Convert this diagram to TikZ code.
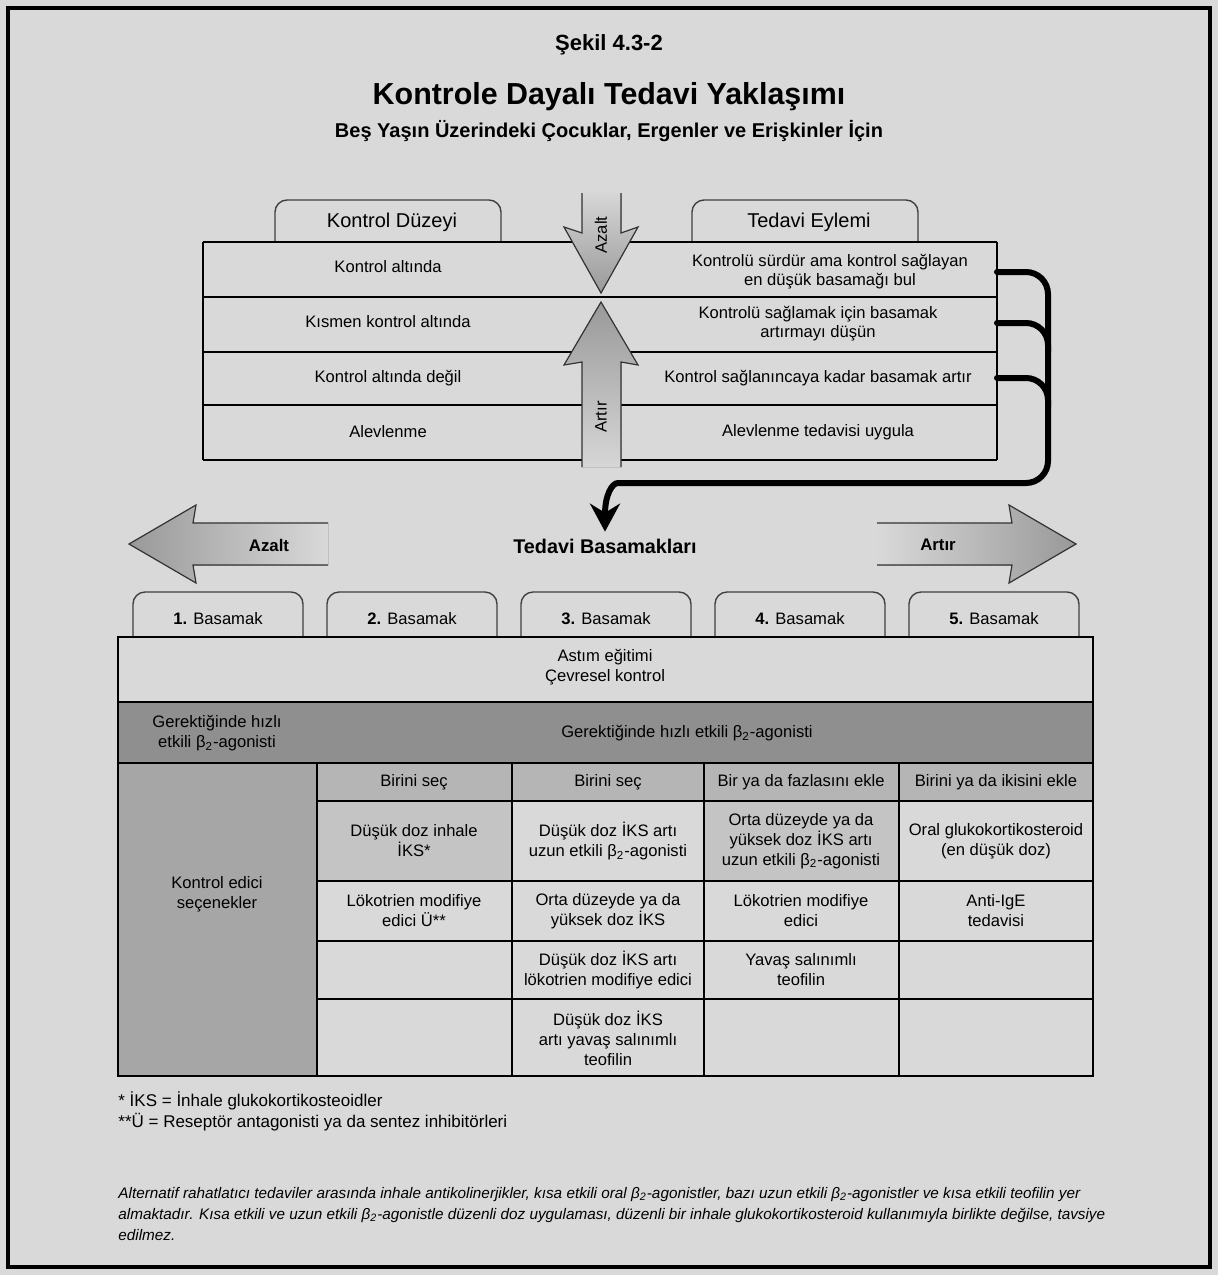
\documentclass[tikz,border=0pt]{standalone}
\usepackage{fontspec}
\setmainfont{Liberation Sans}
\usetikzlibrary{arrows.meta,calc,positioning}

\definecolor{pagebg}{gray}{0.85}
\definecolor{darkrow}{gray}{0.56}
\definecolor{colgray}{gray}{0.65}
\definecolor{headgray}{gray}{0.71}
\definecolor{cellgray}{gray}{0.77}
\definecolor{arrlight}{gray}{0.84}
\definecolor{arrdark}{gray}{0.60}
\newcommand{\btwo}{β\textsubscript{2}}

\begin{document}
\begin{tikzpicture}[x=0.5pt, y=-0.5pt,
  txt/.style={font=\fontsize{8.3}{10}\selectfont, align=center, inner sep=1pt},
  tabline/.style={draw=black!75, line width=0.7pt, rounded corners=6pt},
  grid/.style={line width=1pt},
  arrline/.style={draw=black!80, line width=0.6pt},
  conn/.style={line width=3pt, rounded corners=11pt, line cap=round},
  note/.style={font=\fontsize{8.5}{10}\selectfont, anchor=west, inner sep=0pt}]

  % Background and frame
  \fill[pagebg] (0,0) rectangle (1218,1275);
  \useasboundingbox (0,0) rectangle (1218,1275);
  \draw[line width=2pt] (8,8) rectangle (1210,1267);

  % Titles
  \node[font=\bfseries\fontsize{11}{13}\selectfont] (fig) at (609,45) {Şekil 4.3-2};
  \node[font=\bfseries\fontsize{15.2}{18}\selectfont] (title) at (609,97) {Kontrole Dayalı Tedavi Yaklaşımı};
  \node[font=\bfseries\fontsize{10}{12}\selectfont] (subtitle) at (609,131) {Beş Yaşın Üzerindeki Çocuklar, Ergenler ve Erişkinler İçin};

  % Upper table
  \draw[tabline] (275,242) -- (275,200) -- (501,200) -- (501,242);
  \draw[tabline] (692,242) -- (692,200) -- (918,200) -- (918,242);
  \node[font=\fontsize{10}{12}\selectfont] (level) at (392,222) {Kontrol Düzeyi};
  \node[font=\fontsize{10}{12}\selectfont] (action) at (809,222) {Tedavi Eylemi};
  \foreach \y in {242,297,352,405,460}
    \draw[grid] (203,\y) -- (997,\y);
  \draw[grid] (203,242) -- (203,460);
  \draw[grid] (997,242) -- (997,460);

  % Azalt / Artir arrows
  \fill[top color=arrlight, bottom color=arrdark] (582,193) -- (582,233) -- (564,227) -- (601,293) -- (638,227) -- (621,233) -- (621,193) -- cycle;
  \draw[arrline] (582,193) -- (582,233) -- (564,227) -- (601,293) -- (638,227) -- (621,233) -- (621,193);
  \fill[top color=arrdark, bottom color=arrlight] (582,467) -- (582,362) -- (564,365) -- (601,302) -- (638,365) -- (621,362) -- (621,467) -- cycle;
  \draw[arrline] (582,467) -- (582,362) -- (564,365) -- (601,302) -- (638,365) -- (621,362) -- (621,467);
  \node[txt, rotate=90] (dec) at (601,235) {Azalt};
  \node[txt, rotate=90] (inc) at (601,417) {Artır};

  \node[txt] (lev1) at (388,267) {Kontrol altında};
  \node[txt] (lev2) at (388,322) {Kısmen kontrol altında};
  \node[txt] (lev3) at (388,378) {Kontrol altında değil};
  \node[txt] (lev4) at (388,432) {Alevlenme};
  \node[txt, font=\fontsize{8.3}{9.5}\selectfont] (act1) at (830,272) {Kontrolü sürdür ama kontrol sağlayan\\en düşük basamağı bul};
  \node[txt, font=\fontsize{8.3}{9.5}\selectfont] (act2) at (818,324) {Kontrolü sağlamak için basamak\\artırmayı düşün};
  \node[txt] (act3) at (818,378) {Kontrol sağlanıncaya kadar basamak artır};
  \node[txt] (act4) at (818,432) {Alevlenme tedavisi uygula};

  % Steps heading
  \fill[left color=arrdark, right color=pagebg] (328,523) -- (193,523) -- (196,505) -- (129,544) -- (196,583) -- (193,565) -- (328,565) -- cycle;
  \draw[arrline] (328,523) -- (193,523) -- (196,505) -- (129,544) -- (196,583) -- (193,565) -- (328,565);
  \fill[left color=pagebg, right color=arrdark] (877,523) -- (1012,523) -- (1009,505) -- (1076,544) -- (1009,583) -- (1012,565) -- (877,565) -- cycle;
  \draw[arrline] (877,523) -- (1012,523) -- (1009,505) -- (1076,544) -- (1009,583) -- (1012,565) -- (877,565);
  \node[font=\bfseries\fontsize{8.4}{10}\selectfont] (down) at (269,545) {Azalt};
  \node[font=\bfseries\fontsize{8.4}{10}\selectfont] (up) at (938,545) {Artır};
  \node[font=\bfseries\fontsize{9.9}{12}\selectfont] (steps) at (605,546) {Tedavi Basamakları};

  % Connector into the steps
  \coordinate (r1) at (997,272);
  \coordinate (r2) at (997,323);
  \coordinate (r3) at (997,378);
  \draw[conn, -{Stealth[length=14pt,width=15pt]}] (r1) -- (1048,272) -- (1048,483) -- (640,483) .. controls (612,483) and (605,495) .. (steps.north);
  \draw[conn] (r2) -- (1048,323) -- (1048,352);
  \draw[conn] (r3) -- (1048,378) -- (1048,407);

  % Step tabs
  \foreach \i in {1,...,5} {
    \pgfmathsetmacro\xl{133+194*(\i-1)}
    \draw[tabline] (\xl,637) -- (\xl,592) -- (\xl+170,592) -- (\xl+170,637);
    \node[txt] (tab\i) at (\xl+85,619) {\textbf{\i.} Basamak};
  }

  % Lower table
  \fill[darkrow] (118,702) rectangle (1093,763);
  \fill[colgray] (118,763) rectangle (317,1076);
  \fill[headgray] (317,763) rectangle (1093,801);
  \fill[cellgray] (317,801) rectangle (512,881);
  \fill[cellgray] (704,801) rectangle (899,881);
  \draw[grid] (118,702) -- (1093,702);
  \draw[grid] (118,763) -- (1093,763);
  \foreach \y in {801,881,941,999}
    \draw[grid] (317,\y) -- (1093,\y);
  \foreach \x in {317,512,704,899}
    \draw[grid] (\x,763) -- (\x,1076);
  \draw[line width=1.3pt] (118,637) rectangle (1093,1076);

  \node[txt] (edu) at (605,667) {Astım eğitimi\\Çevresel kontrol};
  \node[txt] (rel1) at (217,733) {Gerektiğinde hızlı\\etkili \btwo-agonisti};
  \node[txt] (rel2) at (687,733) {Gerektiğinde hızlı etkili \btwo-agonisti};
  \node[txt] (ctrl) at (217,894) {Kontrol edici\\seçenekler};

  \node[txt] (h2) at (414,782) {Birini seç};
  \node[txt] (h3) at (608,782) {Birini seç};
  \node[txt] (h4) at (801,782) {Bir ya da fazlasını ekle};
  \node[txt] (h5) at (996,782) {Birini ya da ikisini ekle};

  \node[txt] (a2) at (414,841) {Düşük doz inhale\\İKS*};
  \node[txt] (a3) at (608,841) {Düşük doz İKS artı\\uzun etkili \btwo-agonisti};
  \node[txt] (a4) at (801,841) {Orta düzeyde ya da\\yüksek doz İKS artı\\uzun etkili \btwo-agonisti};
  \node[txt] (a5) at (996,841) {Oral glukokortikosteroid\\(en düşük doz)};

  \node[txt] (b2) at (414,911) {Lökotrien modifiye\\edici Ü**};
  \node[txt] (b3) at (608,911) {Orta düzeyde ya da\\yüksek doz İKS};
  \node[txt] (b4) at (801,911) {Lökotrien modifiye\\edici};
  \node[txt] (b5) at (996,911) {Anti-IgE\\tedavisi};

  \node[txt] (c3) at (608,970) {Düşük doz İKS artı\\lökotrien modifiye edici};
  \node[txt] (c4) at (801,970) {Yavaş salınımlı\\teofilin};

  \node[txt] (d3) at (608,1038) {Düşük doz İKS\\artı yavaş salınımlı\\teofilin};

  % Notes
  \node[note] (fn1) at (118,1101) {* İKS = İnhale glukokortikosteoidler};
  \node[note] (fn2) at (118,1122) {**Ü = Reseptör antagonisti ya da sentez inhibitörleri};
  \node[anchor=north west, align=left, inner sep=0pt, font=\itshape\fontsize{7.65}{10.5}\selectfont] (alt) at (118,1187)
    {Alternatif rahatlatıcı tedaviler arasında inhale antikolinerjikler, kısa etkili oral \btwo-agonistler, bazı uzun etkili \btwo-agonistler ve kısa etkili teofilin yer\\
     almaktadır. Kısa etkili ve uzun etkili \btwo-agonistle düzenli doz uygulaması, düzenli bir inhale glukokortikosteroid kullanımıyla birlikte değilse, tavsiye\\
     edilmez.};
\end{tikzpicture}
\end{document}
